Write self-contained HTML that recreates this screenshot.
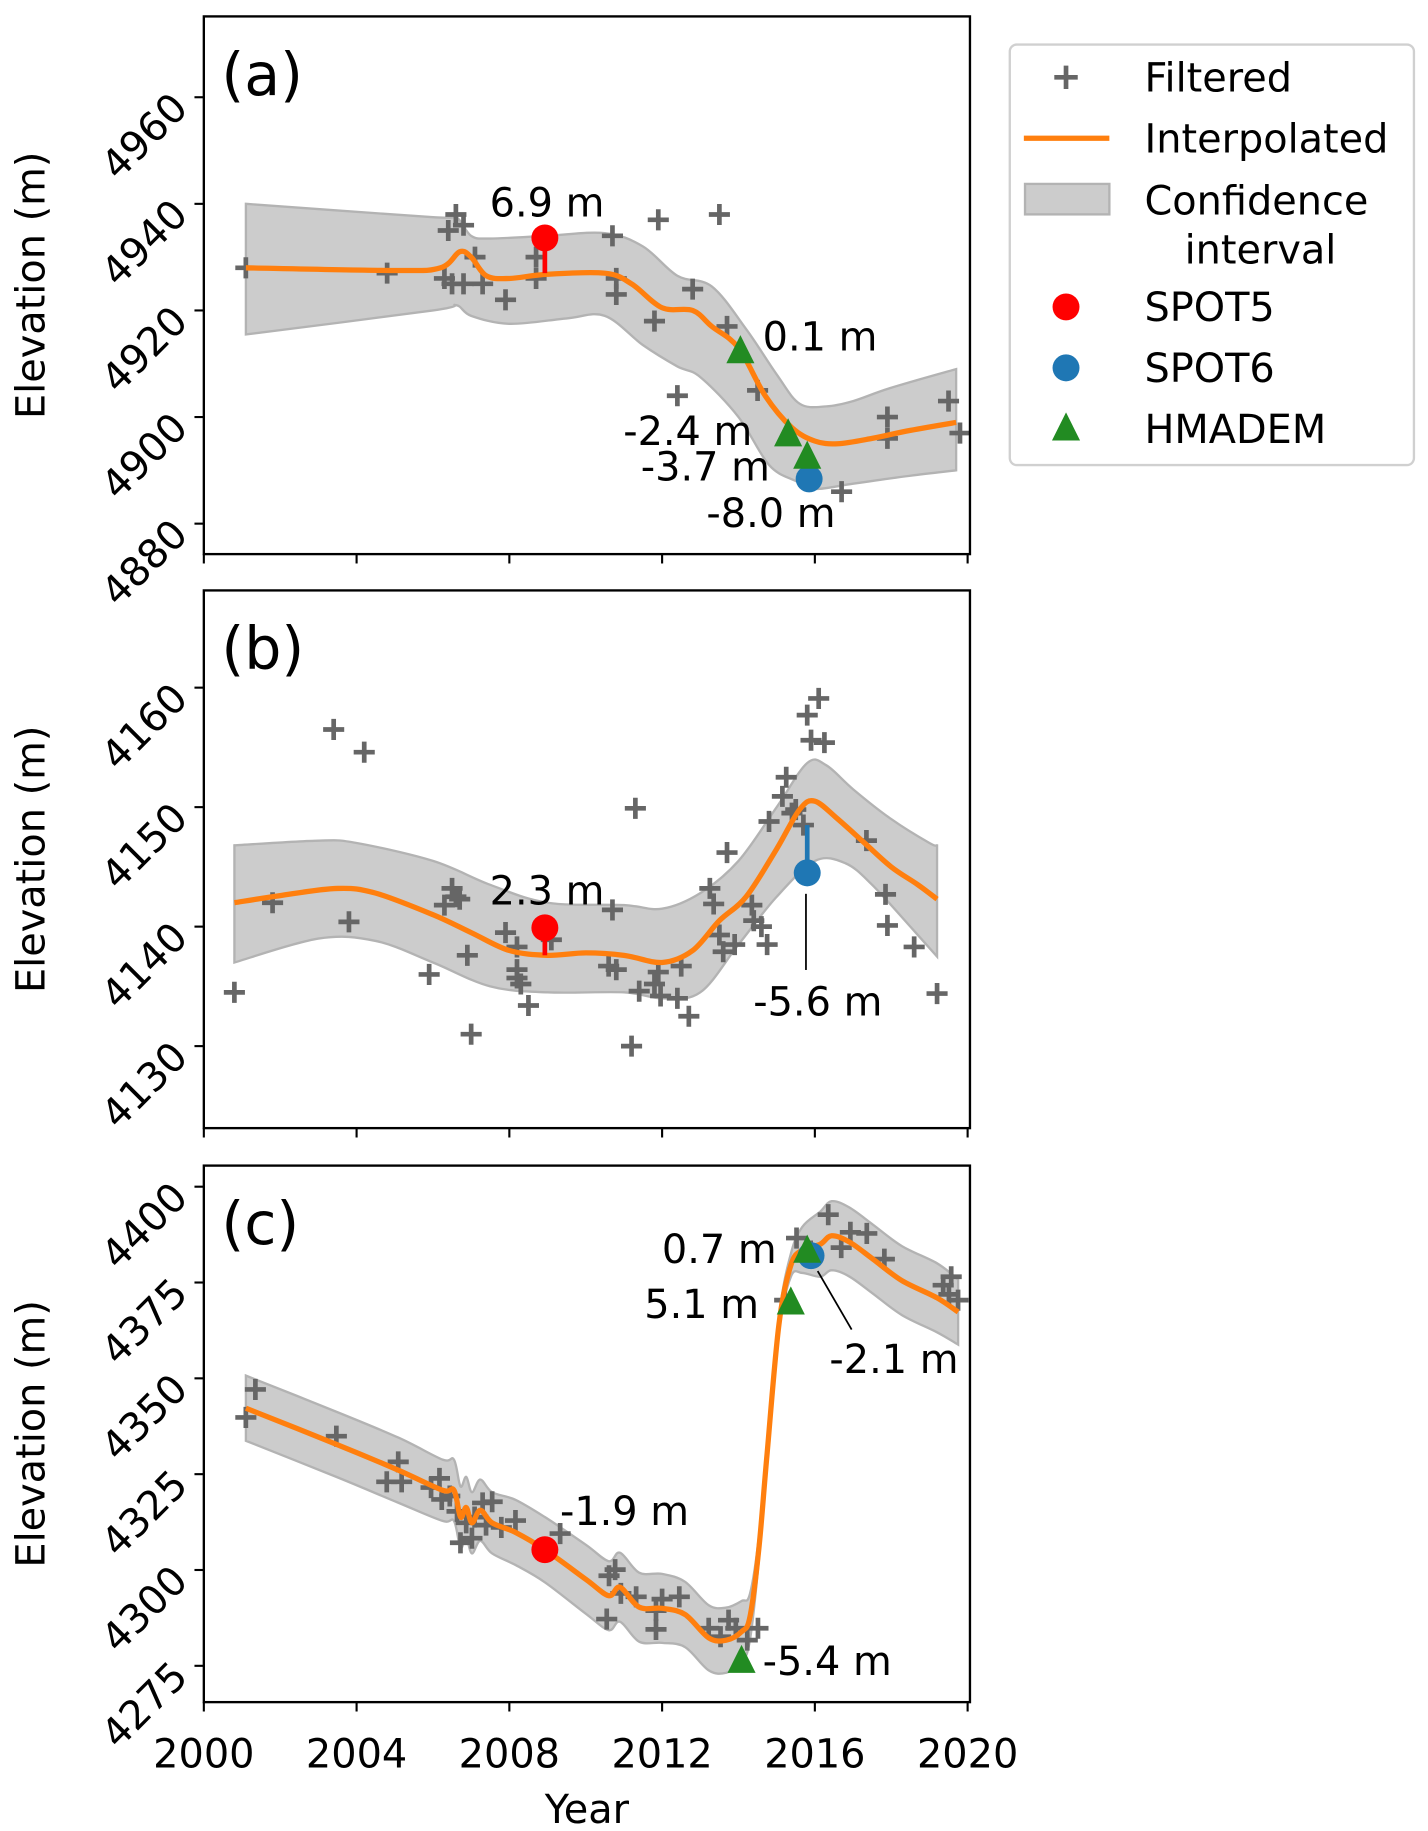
<!DOCTYPE html>
<html><head><meta charset="utf-8"><style>
html,body{margin:0;padding:0;background:#fff}
svg{display:block;font-family:"DejaVu Sans","Liberation Sans",sans-serif}
</style></head><body>
<svg id="fig" width="1428" height="1831" viewBox="0 0 1219 1563" xmlns="http://www.w3.org/2000/svg"></svg>
<script>
// ---- Panel (a) data ----
const aPtsYear=[2001.1,2004.8,2006.3,2006.4,2006.6,2006.8,2006.5,2006.8,2007.1,2007.3,2007.9,2008.7,2008.7,2010.7,2010.8,2010.8,2011.9,2011.8,2012.4,2012.8,2013.5,2013.7,2014.5,2015.8,2016.7,2017.9,2017.9,2019.5,2019.8];
const aPtsElev=[4928,4927,4926,4935,4938,4936,4925,4925,4930,4925,4922,4926,4930,4934,4926,4923,4937,4918,4904,4924,4938,4917,4905,4889,4886,4900,4896,4903,4897];
const aCurveYear=[2001.1,2005,2006.2,2006.7,2007,2007.4,2008,2009,2010.5,2011.2,2012,2012.8,2013.3,2014,2014.7,2015.4,2016,2016.6,2017.5,2018.5,2019.7];
const aCurveElev=[4928,4927.5,4928,4931,4930,4926.5,4926,4926.8,4927,4925,4920.5,4920,4917,4913,4904,4898,4895.5,4895,4896,4897.5,4899];
const aUpYear=[2001.1,2006,2006.6,2007,2007.5,2009,2010.5,2011.5,2012.4,2013.3,2014.2,2015,2015.6,2016.3,2017,2018,2019.7];
const aUpElev=[4940,4937.5,4937.5,4934,4933.5,4934,4934.5,4932,4926.5,4924.5,4916.5,4908,4902.5,4902,4903,4905.5,4909];
const aLoYear=[2001.1,2006,2006.6,2007,2008,2009.5,2010.5,2011.5,2012.4,2013,2014,2014.8,2015.5,2016,2017,2018.5,2019.7];
const aLoElev=[4915.5,4920,4921,4919,4917.5,4918.5,4919,4913.5,4909.5,4907.5,4900,4891,4888,4886.5,4887.5,4889,4890];
// ---- Panel (b) data ----
const bPtsYear=[2000.8,2001.8,2003.4,2003.8,2004.2,2005.9,2006.3,2006.5,2006.6,2006.7,2006.9,2007.0,2007.9,2008.2,2008.2,2008.3,2008.2,2008.5,2008.9,2009.1,2010.6,2010.7,2010.8,2011.3,2011.2,2011.4,2011.8,2011.9,2011.96,2012.4,2012.5,2012.7,2013.25,2013.35,2013.5,2013.6,2013.7,2013.9,2014.35,2014.4,2014.6,2014.75,2014.8,2015.15,2015.25,2015.4,2015.5,2015.7,2015.8,2015.9,2016.1,2016.25,2017.35,2017.85,2017.9,2018.6,2019.2];
const bPtsElev=[4134.5,4142,4156.5,4140.4,4154.6,4136,4141.8,4143.2,4142.5,4142.3,4137.6,4131,4139.5,4138.3,4135.7,4135.2,4136.4,4133.4,4139.8,4138.9,4136.7,4141.4,4136.4,4149.9,4130,4134.6,4135.2,4136.2,4134.2,4134,4136.7,4132.5,4143.2,4141.9,4139.3,4137.9,4146.2,4138.5,4141.8,4140.5,4140,4138.5,4148.8,4150.9,4152.5,4149.5,4149.8,4148.5,4157.7,4155.6,4159.1,4155.4,4147.2,4142.7,4140.1,4138.3,4134.4];
const bCurveYear=[2000.8,2002,2003.5,2004.5,2006,2007,2008,2009,2010,2011,2012,2012.8,2013.5,2014.2,2015,2015.6,2016,2016.6,2017.3,2018,2018.7,2019.2];
const bCurveElev=[4142,4142.6,4143.2,4142.8,4141,4139.5,4138,4137.6,4137.8,4137.6,4137,4138,4140.5,4142.5,4146.5,4149.8,4150.5,4149,4147,4145,4143.5,4142.3];
const bUpYear=[2000.8,2003,2004,2006,2007.5,2009,2011,2012,2013,2014,2015,2015.8,2016.3,2017,2018,2019,2019.2];
const bUpElev=[4146.8,4147.2,4147,4145.5,4143.5,4142,4141.8,4141.5,4142.8,4145.5,4150,4153.7,4153.5,4151.5,4149,4147,4146.8];
const bLoYear=[2000.8,2003,2004.5,2006,2007.5,2009,2011,2012,2013,2014,2015,2016,2016.8,2017.5,2018.5,2019.2];
const bLoElev=[4137,4139,4138.8,4137,4135,4134.5,4134.5,4134,4134.5,4138.5,4142.5,4145.5,4145.3,4143.5,4140,4137.5];
// ---- Panel (c) data ----
const cPtsYear=[2001.10,2001.35,2003.47,2004.79,2005.09,2005.18,2005.95,2006.17,2006.23,2006.44,2006.63,2006.72,2006.87,2007.02,2007.09,2007.30,2007.39,2007.55,2007.79,2008.16,2009.33,2010.55,2010.61,2010.77,2010.92,2011.32,2011.84,2011.84,2012.0,2012.45,2013.22,2013.53,2013.74,2013.93,2014.23,2014.51,2015.21,2015.52,2015.89,2016.35,2016.69,2016.93,2017.36,2017.82,2019.36,2019.57,2019.75,2019.51];
const cPtsElev=[4339.8,4347.1,4334.9,4323.0,4328.2,4323.0,4321.5,4323.9,4318.4,4319.3,4315.3,4307.1,4312.3,4308.3,4313.8,4317.5,4311.7,4317.8,4311.1,4312.9,4309.5,4287.2,4298.5,4300.1,4293.9,4293,4289.4,4284.5,4292.4,4293,4284.8,4282.6,4286.9,4284.8,4281.7,4284.8,4370.4,4386.6,4383.2,4392.7,4384.1,4388.1,4387.8,4381.1,4374.3,4376.5,4370.4,4371.9];
const cCurveYear=[2001.1,2003.47,2005.1,2006.25,2006.55,2006.72,2006.87,2007.02,2007.24,2007.55,2008.16,2008.93,2010,2010.6,2010.9,2011.4,2012,2012.6,2013.22,2013.68,2014.08,2014.3,2014.54,2014.75,2015.06,2015.37,2015.67,2016.14,2016.44,2016.9,2017.52,2018.28,2019.2,2019.75];
const cCurveElev=[4342.2,4332.8,4326,4320.8,4320.8,4313.8,4316.3,4312.3,4315.6,4312.3,4309.8,4305.3,4297.6,4293.3,4295.5,4290.3,4290,4288.4,4282.3,4281.7,4283.9,4287.8,4306.2,4330.6,4364.2,4379.5,4383.5,4385,4387.2,4385.6,4381.1,4375.5,4371,4367.3];
const cHalfWidth=[8.5,8.5,8.5,8,8,8,8,8,8,8,8.5,8.5,9,9,9,9,9,8.5,8.5,8.5,8,6,3,2,2,3,6,8.5,9,9,9,9,9,8.5];

const svg=document.getElementById('fig');
const NS='http://www.w3.org/2000/svg';
function mk(tag,attrs,parent){const e=document.createElementNS(NS,tag);for(const k in attrs)e.setAttribute(k,attrs[k]);(parent||svg).appendChild(e);return e;}
const X0=174,X1=828;
const xs=y=>X0+(y-2000)*(826-174)/20;
function linY(v1,p1,v2,p2){return v=>p1+(v-v1)*(p2-p1)/(v2-v1);}
const FS=34;

function pathFrom(years,vals,ys,cont){
  const P=years.map((y,i)=>[xs(y),ys(vals[i])]);
  let d=(cont?'L':'M')+P[0][0].toFixed(1)+' '+P[0][1].toFixed(1);
  for(let i=0;i<P.length-1;i++){
    const p0=P[Math.max(0,i-1)],p1=P[i],p2=P[i+1],p3=P[Math.min(P.length-1,i+2)];
    const c1=[p1[0]+(p2[0]-p0[0])/6,p1[1]+(p2[1]-p0[1])/6];
    const c2=[p2[0]-(p3[0]-p1[0])/6,p2[1]-(p3[1]-p1[1])/6];
    d+=` C${c1[0].toFixed(1)} ${c1[1].toFixed(1)} ${c2[0].toFixed(1)} ${c2[1].toFixed(1)} ${p2[0].toFixed(1)} ${p2[1].toFixed(1)}`;
  }
  return d;
}

function panel(cfg){
  const g=mk('g',{});
  
  
  const ys=cfg.ys;
  const cp=mk('clipPath',{id:'clip'+cfg.id},g);
  mk('rect',{x:X0,y:cfg.top,width:X1-X0,height:cfg.bot-cfg.top},cp);
  const inner=mk('g',{'clip-path':'url(#clip'+cfg.id+')'},g);
  const band=mk('path',{d:cfg.bandD,fill:'#cccccc',stroke:'#b3b3b3','stroke-width':2},inner);
  
  
  cfg.px.forEach((yr,i)=>{
    const x=xs(yr),y=ys(cfg.py[i]);
    const p=mk('path',{d:`M${x-9} ${y}H${x+9}M${x} ${y-9}V${y+9}`,stroke:'#666','stroke-width':4},inner);
    
    
  });
  const ln=mk('path',{d:pathFrom(cfg.cx,cfg.cy,ys),fill:'none',stroke:'#ff7f0e','stroke-width':4.5,'stroke-linejoin':'round'},inner);
  
  
  (cfg.extra||(()=>{}))(inner,ys);
  const fr=mk('rect',{x:X0,y:cfg.top,width:X1-X0,height:cfg.bot-cfg.top,fill:'none',stroke:'#000','stroke-width':2},g);
  
  
  cfg.ticks.forEach(t=>{
    const y=ys(t);
    mk('line',{x1:X0-8,x2:X0,y1:y,y2:y,stroke:'#000','stroke-width':1.8},g);
    const tx=mk('text',{x:X0-12,y:y+11,'font-size':FS,'text-anchor':'end',transform:`rotate(-45 ${X0-12} ${y+11})`},g);
    tx.textContent=t;
    
    
  });
  [2000,2004,2008,2012,2016,2020].forEach(t=>{
    const x=xs(t);
    mk('line',{x1:x,x2:x,y1:cfg.bot,y2:cfg.bot+8,stroke:'#000','stroke-width':1.8},g);
    if(cfg.xlabels){const tx=mk('text',{x:x,y:cfg.bot+56,'font-size':FS,'text-anchor':'middle'},g);tx.textContent=t;
      
      }
  });
  const yl=mk('text',{x:0,y:0,'font-size':FS,'text-anchor':'middle',transform:`translate(38 ${(cfg.top+cfg.bot)/2}) rotate(-90)`},g);
  yl.textContent='Elevation (m)';
  
  
  const pl=mk('text',{x:189,y:cfg.top+67,'font-size':50},g);
  pl.textContent='('+cfg.id+')';
  
  
  return g;
}
function circ(p,x,y,col,name){const c=mk('circle',{cx:x,cy:y,r:11.5,fill:col},p);}
function tri(p,x,y,name){const t=mk('path',{d:`M${x} ${y-14}L${x+12} ${y+10}L${x-12} ${y+10}Z`,fill:'#228b22'},p);}
function lab(p,x,y,s,name){const t=mk('text',{x:x,y:y+2,'font-size':FS},p);t.textContent=s;}

const ysA=linY(4960,83,4880,447);
panel({id:'a',top:14,bot:473,ys:ysA,ticks:[4880,4900,4920,4940,4960],
 px:aPtsYear,py:aPtsElev,cx:aCurveYear,cy:aCurveElev,
 bandD:pathFrom(aUpYear,aUpElev,ysA)+' '+pathFrom(aLoYear.slice().reverse(),aLoElev.slice().reverse(),ysA,true)+'Z',
 extra:(p,ys)=>{
  mk('line',{x1:xs(2008.93),x2:xs(2008.93),y1:ys(4933.6),y2:ys(4927),stroke:'#ff0000','stroke-width':4},p);
  circ(p,xs(2008.93),ys(4933.6),'#ff0000','spot5-marker');
  circ(p,xs(2015.85),ys(4888.4),'#1f77b4','spot6-marker');
  tri(p,xs(2014.05),ys(4912.3),'hmadem-marker');tri(p,xs(2015.3),ys(4896.7),'hmadem-marker');tri(p,xs(2015.8),ys(4892.5),'hmadem-marker');
 }});
const gA=svg.lastChild;
lab(gA,418,183,'6.9 m','annotation-label');lab(gA,651,297,'0.1 m','annotation-label');lab(gA,532,378,'-2.4 m','annotation-label');lab(gA,547,408,'-3.7 m','annotation-label');lab(gA,603,448,'-8.0 m','annotation-label');

const ysB=linY(4160,587,4130,893);
panel({id:'b',top:504,bot:963,ys:ysB,ticks:[4130,4140,4150,4160],
 px:bPtsYear,py:bPtsElev,cx:bCurveYear,cy:bCurveElev,
 bandD:pathFrom(bUpYear,bUpElev,ysB)+' '+pathFrom(bLoYear.slice().reverse(),bLoElev.slice().reverse(),ysB,true)+'Z',
 extra:(p,ys)=>{
  mk('line',{x1:xs(2008.93),x2:xs(2008.93),y1:ys(4139.9),y2:ys(4137.6),stroke:'#ff0000','stroke-width':4},p);
  circ(p,xs(2008.93),ys(4139.9),'#ff0000','spot5-marker');
  mk('line',{x1:xs(2015.8),x2:xs(2015.8),y1:ys(4144.5),y2:ys(4148.5),stroke:'#1f77b4','stroke-width':4},p);
  circ(p,xs(2015.8),ys(4144.5),'#1f77b4','spot6-marker');
  mk('line',{x1:688,x2:688,y1:763,y2:828,stroke:'#000','stroke-width':1.5},p);
 }});
const gB=svg.lastChild;
lab(gB,418,770,'2.3 m','annotation-label');lab(gB,643,865,'-5.6 m','annotation-label');

const ysC=linY(4400,1013,4275,1422);
panel({id:'c',top:995,bot:1453,ys:ysC,ticks:[4275,4300,4325,4350,4375,4400],xlabels:true,
 px:cPtsYear,py:cPtsElev,cx:cCurveYear,cy:cCurveElev,
 bandD:pathFrom(cCurveYear,cCurveElev.map((v,i)=>v+cHalfWidth[i]),ysC)+' '+pathFrom(cCurveYear.slice().reverse(),cCurveElev.map((v,i)=>v-cHalfWidth[i]).reverse(),ysC,true)+'Z',
 extra:(p,ys)=>{
  circ(p,xs(2008.93),ys(4305.3),'#ff0000','spot5-marker');
  circ(p,xs(2015.9),ys(4382),'#1f77b4','spot6-marker');
  tri(p,xs(2015.37),ys(4369.7),'hmadem-marker');tri(p,xs(2015.8),ys(4383.2),'hmadem-marker');tri(p,xs(2014.08),ys(4276.2),'hmadem-marker');
  mk('line',{x1:698,x2:727,y1:1085,y2:1135,stroke:'#000','stroke-width':1.5},p);
 }});
const gC=svg.lastChild;
lab(gC,478,1300,'-1.9 m','annotation-label');lab(gC,565,1076,'0.7 m','annotation-label');lab(gC,550,1123,'5.1 m','annotation-label');lab(gC,708,1170,'-2.1 m','annotation-label');lab(gC,651,1428,'-5.4 m','annotation-label');
const xt=mk('text',{x:501,y:1556,'font-size':FS,'text-anchor':'middle'});xt.textContent='Year';



const lg=mk('g',{});


mk('rect',{x:862,y:38,width:345,height:359,rx:6,fill:'#fff',stroke:'#d0d0d0','stroke-width':2},lg);
const lx=910,tx0=977;
mk('path',{d:`M${lx-10} 66H${lx+10}M${lx} 56V76`,stroke:'#666','stroke-width':4},lg);
mk('line',{x1:874,x2:947,y1:118,y2:118,stroke:'#ff7f0e','stroke-width':4.5},lg);
mk('rect',{x:875,y:157,width:72,height:26,fill:'#cccccc',stroke:'#b3b3b3','stroke-width':2},lg);
circ(lg,lx,262,'#ff0000','legend-spot5-marker');
circ(lg,lx,314,'#1f77b4','legend-spot6-marker');
tri(lg,lx,366,'legend-hmadem-marker');
[['Filtered',78],['Interpolated',130],['Confidence',183],['SPOT5',274],['SPOT6',326],['HMADEM',378]].forEach(([s,y])=>{
  const t=mk('text',{x:tx0,y:y,'font-size':FS},lg);t.textContent=s;
  
  
});
const it=mk('text',{x:1076,y:225,'font-size':FS,'text-anchor':'middle'},lg);it.textContent='interval';


</script>
</body></html>
